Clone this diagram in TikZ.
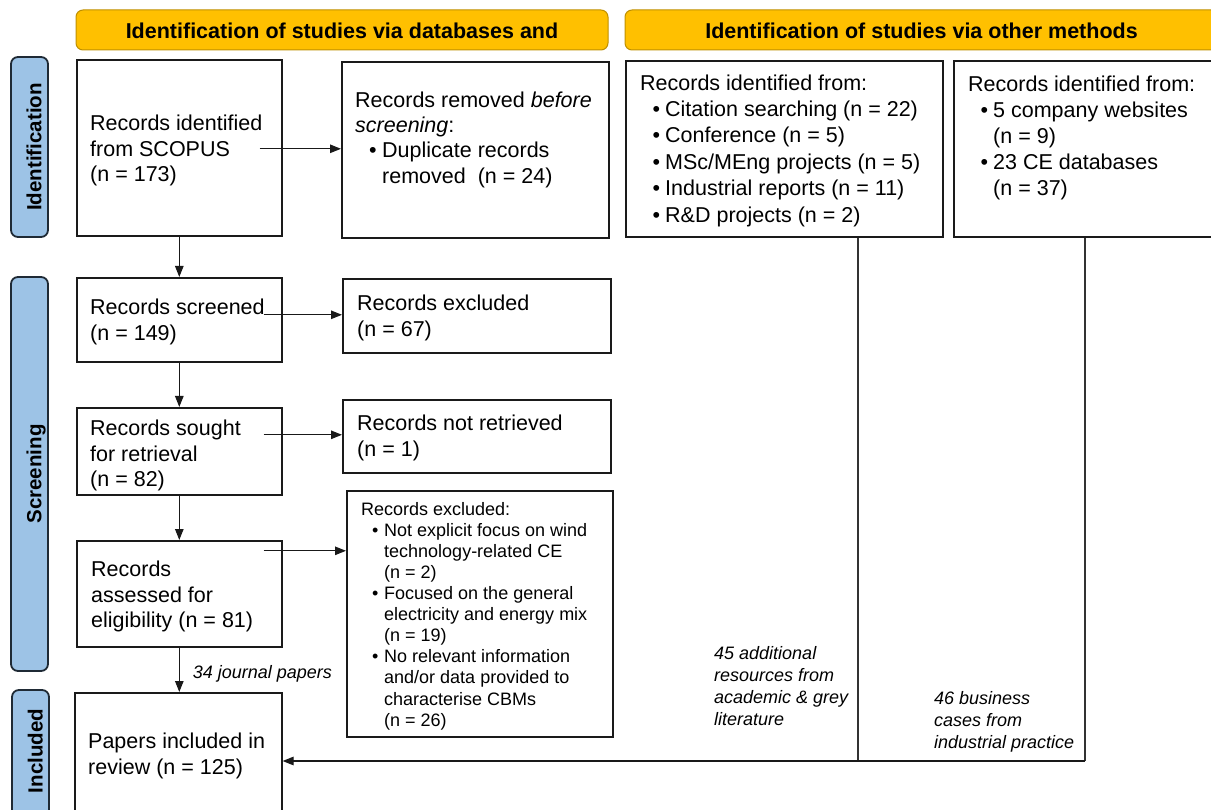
\documentclass[tikz,border=0pt]{standalone}
\usepackage{fontspec}
\setmainfont{Liberation Sans}
\usetikzlibrary{arrows.meta,calc}
\definecolor{hdrfill}{HTML}{FFC000}
\definecolor{hdrline}{HTML}{BF9000}
\definecolor{barfill}{HTML}{9DC3E6}
\definecolor{barline}{HTML}{1F2A35}
\definecolor{boxline}{HTML}{1A1A1A}
\newcommand\myblt[2]{\hspace*{#1}\makebox[#2][l]{\textbullet}}
\newcommand\mycont[1]{\hspace*{#1}}
\tikzset{
  bx/.style={draw=boxline, line width=1.6pt, fill=white, inner sep=0pt, anchor=north west},
  hdr/.style={draw=hdrline, line width=1pt, fill=hdrfill, rounded corners=7pt, inner sep=0pt},
  hdrtxt/.style={anchor=base, inner sep=0pt, font=\fontsize{21.5}{25}\selectfont\bfseries},
  sidebar/.style={draw=barline, line width=1.8pt, fill=barfill, rounded corners=7pt, inner sep=0pt},
  sidetxt/.style={rotate=90, anchor=base, inner sep=0pt, font=\fontsize{20.5}{24}\selectfont\bfseries},
  txt/.style={anchor=west, align=left, inner sep=0pt, yshift=-2.5pt, font=\fontsize{21.5}{25.3}\selectfont},
  txtb/.style={anchor=west, align=left, inner sep=0pt, yshift=-2.5pt, font=\fontsize{21.5}{26.4}\selectfont},
  smalltxt/.style={anchor=west, align=left, inner sep=0pt, yshift=-2.5pt, font=\fontsize{18}{21.1}\selectfont},
  ital/.style={anchor=west, align=left, inner sep=0pt, yshift=-2pt, font=\fontsize{18}{22}\selectfont\itshape},
  arr/.style={draw=black!90, line width=1.1pt, -{Triangle[length=11pt,width=8.5pt]}},
  ln/.style={draw=black!80, line width=1.1pt},
}
\begin{document}
\begin{tikzpicture}[x=1pt,y=-1pt]
\useasboundingbox (0,0) rectangle (1211,810);
\clip (0,0) rectangle (1211,810);
% headers
\node[hdr, minimum width=532pt, minimum height=40pt] (h1) at (342,30) {};
\node[hdr, minimum width=593pt, minimum height=40pt] (h2) at (921.5,30) {};
\node[hdrtxt] (h1t) at (342,39) {Identification of studies via databases and};
\node[hdrtxt] (h2t) at (921.5,39) {Identification of studies via other methods};
% side bars
\node[sidebar, minimum width=37pt, minimum height=180pt] (b1) at (29.5,147) {};
\node[sidebar, minimum width=37pt, minimum height=394pt] (b2) at (29.5,474) {};
\node[sidebar, minimum width=37pt, minimum height=150pt] (b3) at (30.5,765) {};
\node[sidetxt] (t1) at (41.5,147) {Identification};
\node[sidetxt] (t2) at (41.5,474) {Screening};
\node[sidetxt] (t3) at (42.5,751) {Included};
% boxes
\node[bx, minimum width=205pt, minimum height=176pt] (scopus) at (76,59) {};
\node[bx, minimum width=267pt, minimum height=176pt] (removed) at (341,61) {};
\node[bx, minimum width=317pt, minimum height=176pt] (oth1) at (625,60) {};
\node[bx, minimum width=270pt, minimum height=176pt] (oth2) at (953,60) {};
\node[bx, minimum width=205pt, minimum height=84pt] (screened) at (76,277) {};
\node[bx, minimum width=268pt, minimum height=74pt] (excl1) at (342,278) {};
\node[bx, minimum width=205pt, minimum height=87pt] (sought) at (76,407) {};
\node[bx, minimum width=268pt, minimum height=73pt] (notret) at (342,399) {};
\node[bx, minimum width=205pt, minimum height=106pt] (assessed) at (76,540) {};
\node[bx, minimum width=266pt, minimum height=246pt] (excl2) at (346,490) {};
\node[bx, minimum width=207pt, minimum height=140pt] (papers) at (74,692) {};
% texts
\node[txt] (tscopus) at (90,148) {Records identified\\from SCOPUS\\(n = 173)};
\node[txt] (tremoved) at (355,137) {Records removed \textit{before}\\\textit{screening}:\\\myblt{14pt}{13pt}Duplicate records\\\mycont{27pt}removed\ \ (n = 24)};
\node[txtb] (toth1) at (640,148) {Records identified from:\\
\myblt{12.5pt}{12.5pt}Citation searching (n = 22)\\
\myblt{12.5pt}{12.5pt}Conference (n = 5)\\
\myblt{12.5pt}{12.5pt}MSc/MEng projects (n = 5)\\
\myblt{12.5pt}{12.5pt}Industrial reports (n = 11)\\
\myblt{12.5pt}{12.5pt}R\&D projects (n = 2)};
\node[txtb, font=\fontsize{21.5}{25.8}\selectfont] (toth2) at (968,135.5) {Records identified from:\\
\myblt{12.5pt}{12.5pt}5 company websites\\
\mycont{25pt}(n = 9)\\
\myblt{12.5pt}{12.5pt}23 CE databases\\
\mycont{25pt}(n = 37)};
\node[txt] (tscreened) at (90,319.5) {Records screened\\(n = 149)};
\node[txt] (texcl1) at (357,315.5) {Records excluded\\(n = 67)};
\node[txt] (tsought) at (90,453) {Records sought\\for retrieval\\(n = 82)};
\node[txt] (tnotret) at (357,435.5) {Records not retrieved\\(n = 1)};
\node[txt] (tassessed) at (91,594) {Records\\assessed for\\eligibility (n = 81)};
\node[smalltxt] (texcl2) at (361,613.5) {Records excluded:\\
\myblt{11pt}{12pt}Not explicit focus on wind\\
\mycont{23pt}technology-related CE\\
\mycont{23pt}(n = 2)\\
\myblt{11pt}{12pt}Focused on the general\\
\mycont{23pt}electricity and energy mix\\
\mycont{23pt}(n = 19)\\
\myblt{11pt}{12pt}No relevant information\\
\mycont{23pt}and/or data provided to\\
\mycont{23pt}characterise CBMs\\
\mycont{23pt}(n = 26)};
\node[txt] (tpapers) at (88,753.5) {Papers included in\\review (n = 125)};
% connectors
\draw[arr] ([xshift=-23pt,yshift=-1pt]scopus.east) coordinate (a1) -- (a1 -| removed.west);
\draw[arr] (scopus.south) -- (scopus.south |- screened.north);
\draw[arr] ([xshift=-19pt,yshift=5pt]screened.east) coordinate (a2) -- (a2 -| excl1.west);
\draw[arr] (screened.south) -- (screened.south |- sought.north);
\draw[arr] ([xshift=-19pt,yshift=16.5pt]sought.east) coordinate (a3) -- (a3 -| notret.west);
\draw[arr] (sought.south) -- (sought.south |- assessed.north);
\draw[arr] ([xshift=-19pt,yshift=43pt]assessed.east) coordinate (a4) -- (a4 -| excl2.west);
\draw[arr] (assessed.south) -- (assessed.south |- papers.north)
  node[ital, midway, xshift=13pt, yshift=-2pt] (l34) {34 journal papers};
\coordinate (j1) at (858,761);
\coordinate (j2) at (1085,761);
\draw[ln] (oth1.south -| j1) -- (j1);
\draw[ln] (oth2.south -| j2) -- (j2);
\draw[arr] (j2) -- (j2 -| papers.east);
\node[ital] (l45) at (714,684) {45 additional\\resources from\\academic \& grey\\literature};
\node[ital] (l46) at (934,720) {46 business\\cases from\\industrial practice};
\end{tikzpicture}
\end{document}
